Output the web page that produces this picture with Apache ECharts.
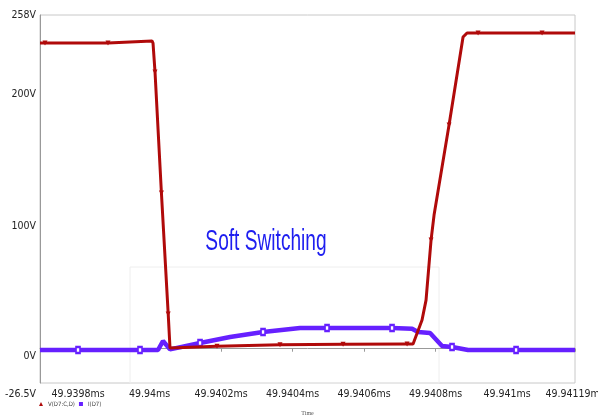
<!DOCTYPE html>
<html>
<head>
<meta charset="utf-8">
<script src="https://cdn.jsdelivr.net/npm/echarts@6/dist/echarts.min.js"></script>
<style>html,body{margin:0;padding:0;background:#fff}#c{width:598px;height:417px}</style>
</head>
<body>
<div id="c"></div>
<script>
// ---- data (time in ms, value in V / A) ----
const redTime = [49.9396937, 49.9397077, 49.9398839, 49.940007, 49.9400098, 49.9400154, 49.9400333, 49.9400523, 49.9400573,
  49.9401888, 49.940365, 49.9405413, 49.9407203, 49.9407371, 49.9407622, 49.9407734, 49.9407874, 49.9407958,
  49.9408377, 49.9408769, 49.9408881, 49.9409189, 49.9410979, 49.94119];
const redValue = [236.3, 236.3, 236.3, 237.9, 236.3, 213.9, 120.4, 26.8, 0.5,
  2.0, 3.0, 3.4, 3.6, 3.6, 22.2, 37.6, 84, 103.3,
  173, 241, 244.1, 244.1, 244.1, 244.1];
const redMarkers = [1, 2, 5, 6, 7, 9, 10, 11, 12, 16, 18, 21, 22];

const blueTime = [49.9396937, 49.9398, 49.9399734, 49.9400238, 49.9400377, 49.9400573, 49.9401413, 49.9402252,
  49.9403175, 49.940421, 49.9404965, 49.9406783, 49.9407343, 49.940751, 49.9407846, 49.9408182, 49.9408461,
  49.9408909, 49.9410252, 49.94119];
const blueValue = [-1.0, -1.0, -1.0, -1.0, 6.0, -0.5, 4.4, 9.0,
  12.9, 16.0, 16.0, 16.0, 15.5, 12.9, 12.1, 2.1, 1.3,
  -1.0, -1.0, -1.0];
const blueMarkers = [1, 2, 6, 8, 10, 11, 16, 18];

const xTicks = [49.9398, 49.94, 49.9402, 49.9404, 49.9406, 49.9408, 49.941, 49.94119];
const yTicks = [-26.5, 0, 100, 200, 258];
const yLabelDrop = [11, 8, 7, 4, 0]; // label sits a little below its tick, as in the original
const seriesNames = ['V(D7:C,D)', 'I(D7)'];
const titleText = 'Soft Switching';

// ---- font pick (narrow if available) ----
function hasFont(f) {
  const ctx = document.createElement('canvas').getContext('2d');
  const s = '49.9398msWWii';
  ctx.font = '20px monospace'; const a = ctx.measureText(s).width;
  ctx.font = '20px "' + f + '", monospace'; const b = ctx.measureText(s).width;
  return a !== b;
}
let labelFont = 'Liberation Sans', labelSize = 10;
if (hasFont('Liberation Sans Narrow')) { labelFont = 'Liberation Sans Narrow'; labelSize = 12; }
else if (hasFont('DejaVu Sans Condensed')) { labelFont = 'DejaVu Sans Condensed'; labelSize = 10.5; }

const RED = '#b00a0a', BLUE = '#6620ff';

function build(times, vals, marks, sym) {
  return times.map((t, i) => {
    const it = { value: [t, vals[i]] };
    if (marks.indexOf(i) >= 0) {
      it.symbol = sym.symbol; it.symbolSize = sym.size; it.symbolRotate = sym.rotate || 0;
    }
    return it;
  });
}

const yRich = {};
yTicks.forEach((v, i) => {
  yRich['d' + i] = { padding: [2 * yLabelDrop[i], 0, 0, 0], fontSize: labelSize, fontFamily: labelFont, color: '#222' };
});

const chart = echarts.init(document.getElementById('c'), null, { renderer: 'canvas' });
chart.setOption({
  animation: false,
  backgroundColor: '#fff',
  grid: { left: 40, top: 15, right: 23, bottom: 34, outerBoundsMode: 'none', containLabel: false,
    show: true, borderColor: '#c8c8c8', borderWidth: 1 },
  legend: {
    left: 39, top: 401, padding: 0, itemGap: 4, itemWidth: 4, itemHeight: 4,
    textStyle: { fontSize: 6, color: '#444', fontFamily: labelFont },
    data: [
      { name: seriesNames[0], icon: 'triangle', itemStyle: { color: RED } },
      { name: seriesNames[1], icon: 'rect', itemStyle: { color: BLUE } }
    ]
  },
  xAxis: {
    type: 'value',
    min: 49.9396937, max: 49.94119,
    name: 'Time', nameLocation: 'middle', nameGap: 27,
    nameTextStyle: { fontSize: 6, color: '#555', fontFamily: 'Liberation Serif' },
    axisLine: { show: true, lineStyle: { color: '#999', width: 1 } },
    axisTick: { show: true, length: 3, customValues: xTicks, lineStyle: { color: '#999' } },
    splitLine: { show: false },
    axisLabel: {
      customValues: xTicks, margin: 6, color: '#222', fontSize: labelSize, fontFamily: labelFont,
      formatter: v => parseFloat(v.toFixed(5)) + 'ms'
    }
  },
  yAxis: {
    type: 'value', min: -26.5, max: 258,
    axisLine: { show: true, lineStyle: { color: '#999', width: 1 } },
    axisTick: { show: false },
    splitLine: { show: false },
    axisLabel: {
      customValues: yTicks, margin: 4, color: '#222', fontSize: labelSize, fontFamily: labelFont,
      rich: yRich,
      formatter: v => {
        const i = yTicks.findIndex(t => Math.abs(t - v) < 1e-6);
        return '{d' + (i < 0 ? 0 : i) + '|' + v + 'V}';
      }
    }
  },
  graphic: [
    { type: 'rect', silent: true, z: 0, shape: { x: 130, y: 267, width: 309, height: 116 },
      style: { fill: 'none', stroke: '#eeeeee', lineWidth: 1 } },
    { type: 'text', x: 266, y: 242, scaleX: 0.66, z: 10,
      style: { text: titleText, fontSize: 29, fontFamily: 'Liberation Sans', fill: '#1e1ef0',
        textAlign: 'center', textVerticalAlign: 'middle' } }
  ],
  series: [
    {
      name: seriesNames[1], type: 'line', data: build(blueTime, blueValue, blueMarkers, { symbol: 'emptyRect', size: [4, 6] }),
      symbol: 'none', showSymbol: true, showAllSymbol: true,
      lineStyle: { color: BLUE, width: 4.5 }, itemStyle: { color: BLUE, borderWidth: 1 }, z: 3
    },
    {
      name: seriesNames[0], type: 'line', data: build(redTime, redValue, redMarkers, { symbol: 'triangle', size: 5, rotate: 180 }),
      symbol: 'none', showSymbol: true, showAllSymbol: true,
      lineStyle: { color: RED, width: 3 }, itemStyle: { color: RED }, z: 4
    }
  ]
});
</script>
</body>
</html>
